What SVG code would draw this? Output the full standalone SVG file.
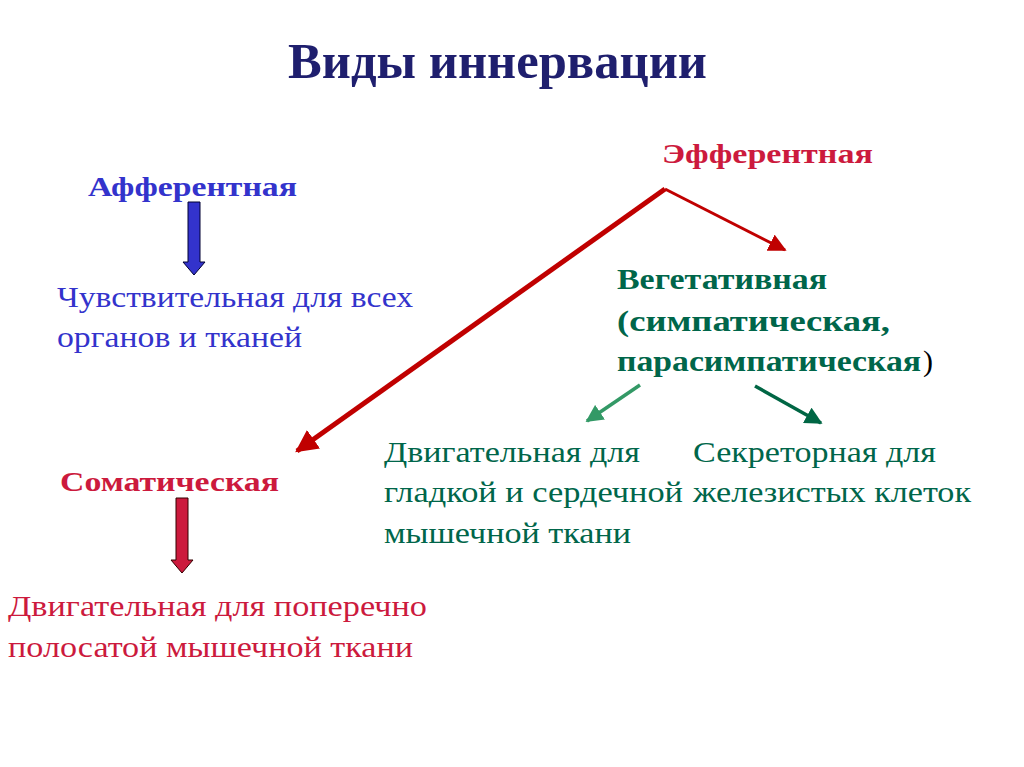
<svg xmlns="http://www.w3.org/2000/svg" width="1024" height="767" viewBox="0 0 1024 767">
<defs>
<style>
text{font-family:"Liberation Serif","Times New Roman",serif;}
.b{font-weight:bold;}
.t{font-size:50px;fill:#1f1f6e;font-weight:bold;}
.h{font-size:27px;}
.n{font-size:30px;}
.blue{fill:#3333cc;}
.red{fill:#cc1a3d;}
.green{fill:#00664a;}
</style>
<marker id="ar" viewBox="0 0 10 10" refX="9" refY="5" markerWidth="4.5" markerHeight="4.5" orient="auto" markerUnits="strokeWidth"><path d="M0,0 L10,5 L0,10 z" fill="#c00000"/></marker>
<marker id="ar2" viewBox="0 0 10 10" refX="9" refY="5" markerWidth="6" markerHeight="6" orient="auto" markerUnits="strokeWidth"><path d="M0,0 L10,5 L0,10 z" fill="#c00000"/></marker>
<marker id="ag1" viewBox="0 0 10 10" refX="9" refY="5" markerWidth="5" markerHeight="5" orient="auto" markerUnits="strokeWidth"><path d="M0,0 L10,5 L0,10 z" fill="#339966"/></marker>
<marker id="ag2" viewBox="0 0 10 10" refX="9" refY="5" markerWidth="5" markerHeight="5" orient="auto" markerUnits="strokeWidth"><path d="M0,0 L10,5 L0,10 z" fill="#006644"/></marker>
</defs>
<rect width="1024" height="767" fill="#ffffff"/>
<g id="title"><text class="t" x="288" y="78" textLength="419" lengthAdjust="spacingAndGlyphs">Виды иннервации</text></g>
<g id="afferent"><text class="b h blue" x="88" y="196" textLength="209" lengthAdjust="spacingAndGlyphs">Афферентная</text></g>
<g id="sensory"><text class="n blue" x="57" y="307" textLength="356" lengthAdjust="spacingAndGlyphs">Чувствительная для всех</text><text class="n blue" x="57" y="347" textLength="245" lengthAdjust="spacingAndGlyphs">органов и тканей</text></g>
<g id="efferent"><text class="b h red" x="662" y="163" textLength="211" lengthAdjust="spacingAndGlyphs">Эфферентная</text></g>
<g id="vegetative"><text class="b n green" x="617" y="289" textLength="210" lengthAdjust="spacingAndGlyphs">Вегетативная</text><text class="b n green" x="617" y="331" textLength="273" lengthAdjust="spacingAndGlyphs">(симпатическая,</text><text class="b n green" x="617" y="371" textLength="304" lengthAdjust="spacingAndGlyphs">парасимпатическая</text><text class="n" x="923" y="371" fill="#000000">)</text></g>
<g id="motor-smooth"><text class="n green" x="384" y="462" textLength="256" lengthAdjust="spacingAndGlyphs">Двигательная для</text><text class="n green" x="384" y="502" textLength="299" lengthAdjust="spacingAndGlyphs">гладкой и сердечной</text><text class="n green" x="384" y="543" textLength="247" lengthAdjust="spacingAndGlyphs">мышечной ткани</text></g>
<g id="secretory"><text class="n green" x="693" y="462" textLength="243" lengthAdjust="spacingAndGlyphs">Секреторная для</text><text class="n green" x="693" y="502" textLength="278" lengthAdjust="spacingAndGlyphs">железистых клеток</text></g>
<g id="somatic"><text class="b h red" x="60" y="491" textLength="219" lengthAdjust="spacingAndGlyphs">Соматическая</text></g>
<g id="motor-striated"><text class="n red" x="8" y="616" textLength="419" lengthAdjust="spacingAndGlyphs">Двигательная для поперечно</text><text class="n red" x="8" y="657" textLength="405" lengthAdjust="spacingAndGlyphs">полосатой мышечной ткани</text></g>
<g id="connectors">
<path d="M188,202 H200 V262 H205 L194,275 L183,262 H188 Z" fill="#3333cc" stroke="#000033" stroke-width="1"/>
<path d="M176,498 H188 V560 H193 L182,573 L171,560 H176 Z" fill="#cc1a3d" stroke="#330000" stroke-width="1"/>
<line x1="665" y1="189" x2="297" y2="451" stroke="#c00000" stroke-width="5" marker-end="url(#ar)"/>
<line x1="665" y1="189" x2="785" y2="250" stroke="#c00000" stroke-width="3" marker-end="url(#ar2)"/>
<line x1="640" y1="385" x2="587" y2="421" stroke="#339966" stroke-width="3.5" marker-end="url(#ag1)"/>
<line x1="755" y1="386" x2="821" y2="423" stroke="#006644" stroke-width="3.5" marker-end="url(#ag2)"/>
</g>
</svg>
